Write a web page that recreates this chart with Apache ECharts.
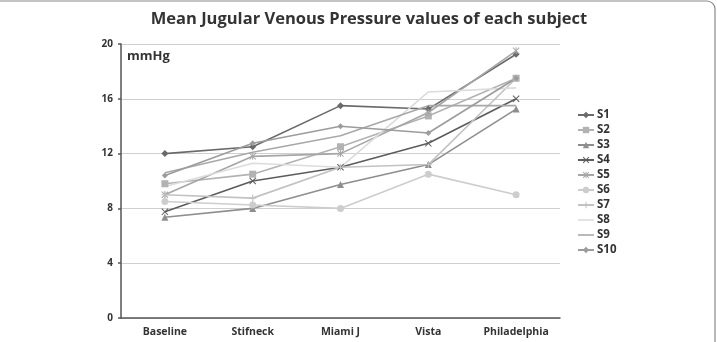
<!DOCTYPE html>
<html>
<head>
<meta charset="utf-8">
<script src="https://cdn.jsdelivr.net/npm/echarts@6/dist/echarts.min.js"></script>
<style>
  html, body { margin: 0; padding: 0; background: #fff; }
  #chart { width: 717px; height: 342px; }
</style>
</head>
<body>
<div id="chart"></div>
<script>
const categories = ["Baseline", "Stifneck", "Miami J", "Vista", "Philadelphia"];
const yTicks = [0, 4, 8, 12, 16, 20];

const s1 = [12.0, 12.5, 15.5, 15.25, 19.25];
const s2 = [9.8, 10.5, 12.5, 14.75, 17.5];
const s3 = [7.35, 8.0, 9.75, 11.2, 15.25];
const s4 = [7.75, 10.0, 11.0, 12.75, 16.0];
const s5 = [9.0, 11.8, 12.0, 15.0, 19.5];
const s6 = [8.5, 8.25, 8.0, 10.5, 9.0];
const s7 = [9.0, 8.75, 11.0, 11.2, 17.5];
const s8 = [9.6, 11.3, 11.0, 16.5, 16.8];
const s9 = [10.6, 12.1, 13.3, 15.5, 15.5];
const s10 = [10.4, 12.75, 14.0, 13.5, 17.5];

const xPath = "path://M1,0L5,4L9,0L10,1L6,5L10,9L9,10L5,6L1,10L0,9L4,5L0,1Z";
const plusPath = "path://M4.2,0H5.8V4.2H10V5.8H5.8V10H4.2V5.8H0V4.2H4.2Z";
const starPath = "path://M1,0L5,4L9,0L10,1L6,5L10,9L9,10L5,6L1,10L0,9L4,5L0,1ZM4.3,0H5.7V10H4.3Z";
const barIcon = "path://M0,0H20V2H0Z";

function line(name, data, color, symbol, size) {
  return {
    name: name,
    type: "line",
    data: data,
    symbol: symbol,
    symbolSize: size || 6,
    showSymbol: symbol !== "none",
    lineStyle: { color: color, width: 1.6 },
    itemStyle: { color: color },
    emphasis: { disabled: true },
  };
}

const chart = echarts.init(document.getElementById("chart"), null, { renderer: "canvas" });

chart.setOption({
  animation: false,
  backgroundColor: "#fff",
  textStyle: { fontFamily: "Open Sans" },
  title: {
    text: "Mean Jugular Venous Pressure values of each subject",
    left: 364,
    textAlign: "center",
    top: 6,
    textStyle: { fontSize: 16.5, fontWeight: "bold", color: "#333", fontFamily: "Open Sans" },
  },
  graphic: [
    {
      type: "rect",
      shape: { x: -10, y: 1, width: 725, height: 360, r: 8 },
      style: { fill: "none", stroke: "#8a8a8a", lineWidth: 1.2 },
      z: 100,
    },
    {
      type: "text",
      left: 127,
      top: 50,
      style: { text: "mmHg", fontSize: 13, fontWeight: "bold", fill: "#333", fontFamily: "Open Sans" },
    },
  ],
  legend: {
    orient: "vertical",
    left: 572,
    top: 104,
    itemWidth: 16,
    itemHeight: 8,
    itemGap: 3,
    textStyle: { fontSize: 11.5, fontWeight: "bold", color: "#333", lineHeight: 11, padding: [0, 0, 0, -2] },
    data: [
      "S1", "S2", "S3", "S4", "S5", "S6", "S7",
      { name: "S8", icon: barIcon, itemStyle: { color: "#dcdcdc" } },
      { name: "S9", icon: barIcon, itemStyle: { color: "#a8a8a8" } },
      "S10",
    ],
  },
  grid: { left: 121, right: 157, top: 44, bottom: 24 },
  xAxis: {
    type: "category",
    data: categories,
    axisLine: { lineStyle: { color: "#555", width: 1.5 } },
    axisTick: { length: 4, lineStyle: { color: "#555", width: 1.5 } },
    axisLabel: { fontSize: 10.5, fontWeight: "bold", color: "#333", margin: 9 },
  },
  yAxis: {
    type: "value",
    min: yTicks[0],
    max: yTicks[yTicks.length - 1],
    interval: 4,
    axisLine: { show: true, lineStyle: { color: "#555", width: 1.5 } },
    axisTick: { show: true, length: 3, lineStyle: { color: "#555", width: 1.5 } },
    axisLabel: { fontSize: 10, fontWeight: "bold", color: "#333", margin: 8 },
    splitLine: { lineStyle: { color: "#cfcfcf", width: 1 } },
  },
  series: [
    line("S1", s1, "#6a6a6a", "diamond", 7),
    line("S2", s2, "#b2b2b2", "rect", 7),
    line("S3", s3, "#8e8e8e", "triangle", 7),
    line("S4", s4, "#5c5c5c", xPath, 7),
    line("S5", s5, "#a6a6a6", starPath, 7),
    line("S6", s6, "#cdcdcd", "circle", 7),
    line("S7", s7, "#c2c2c2", plusPath, 7),
    line("S8", s8, "#dcdcdc", "none"),
    line("S9", s9, "#a8a8a8", "none"),
    line("S10", s10, "#9c9c9c", "diamond", 6),
  ],
});
</script>
</body>
</html>
